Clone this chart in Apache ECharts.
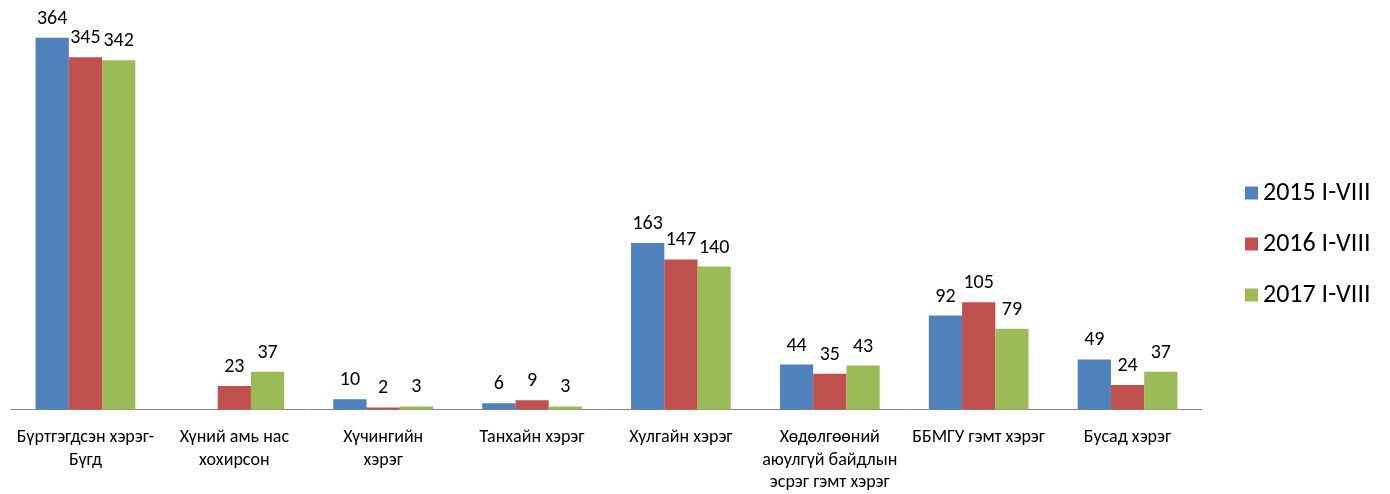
<!DOCTYPE html>
<html>
<head>
<meta charset="utf-8">
<script src="https://cdn.jsdelivr.net/npm/echarts@6/dist/echarts.min.js"></script>
<style>
	html, body { margin: 0; padding: 0; background: #fff; }
	#chart { width: 1390px; height: 494px; }
</style>
</head>
<body>
<div id="chart"></div>
<script>
var categories = ['Бүртгэгдсэн хэрэг-\nБүгд', 'Хүний амь нас\nхохирсон', 'Хүчингийн\nхэрэг', 'Танхайн хэрэг',
	'Хулгайн хэрэг', 'Хөдөлгөөний\nаюулгүй байдлын\nэсрэг гэмт хэрэг', 'ББМГУ гэмт хэрэг', 'Бусад хэрэг'];
var seriesNames = ['2015 I-VIII', '2016 I-VIII', '2017 I-VIII'];
var data2015 = [364, null, 10, 6, 163, 44, 92, 49];
var data2016 = [345, 23, 2, 9, 147, 35, 105, 24];
var data2017 = [342, 37, 3, 3, 140, 43, 79, 37];
var colors = ['#4F81BD', '#C0504D', '#9BBB59'];

var font = 'Carlito, Lato, "Noto Sans", sans-serif';

function makeSeries(name, data, color) {
	return {
		name: name,
		type: 'bar',
		data: data,
		barGap: '0%',
		barCategoryGap: '33%',
		itemStyle: { color: color },
		label: {
			show: true,
			position: 'top',
			distance: 9,
			color: '#000',
			fontSize: 20,
			fontFamily: font
		}
	};
}

var chart = echarts.init(document.getElementById('chart'));
chart.setOption({
	animation: false,
	textStyle: { fontFamily: font },
	grid: { left: 11, right: 188, top: 1, bottom: 84 },
	legend: {
		orient: 'vertical',
		left: 1240,
		top: 175,
		itemWidth: 13,
		itemHeight: 13,
		itemGap: 25,
		icon: 'rect',
		textStyle: { fontSize: 26, color: '#000', fontFamily: font },
		data: seriesNames
	},
	xAxis: {
		type: 'category',
		data: categories,
		axisLine: { lineStyle: { color: '#868686', width: 1 } },
		axisTick: { length: 6, lineStyle: { color: '#868686' } },
		axisLabel: {
			interval: 0,
			margin: 17,
			color: '#000',
			fontSize: 18,
			lineHeight: 22.5,
			fontFamily: font
		}
	},
	yAxis: {
		type: 'value',
		min: 0,
		max: 400,
		show: false,
		splitLine: { show: false }
	},
	series: [
		makeSeries(seriesNames[0], data2015, colors[0]),
		makeSeries(seriesNames[1], data2016, colors[1]),
		makeSeries(seriesNames[2], data2017, colors[2])
	]
});
</script>
</body>
</html>
